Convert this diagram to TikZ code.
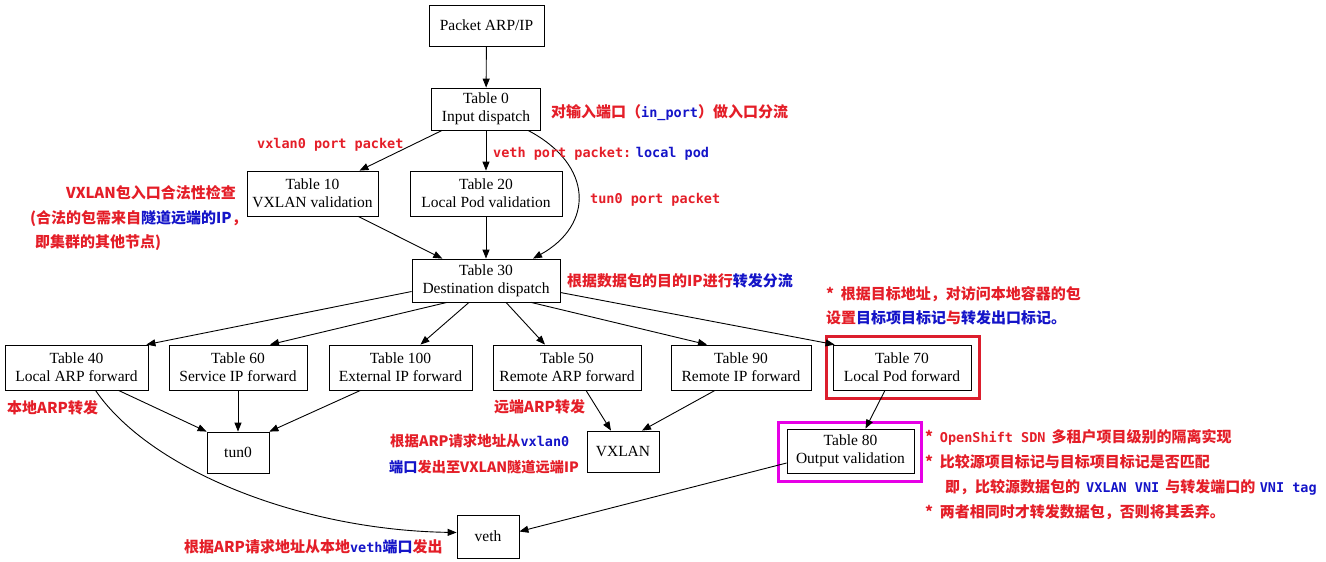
\documentclass[tikz,border=0pt]{standalone}
\usepackage{fontspec}
\setmainfont{Liberation Serif}
\newfontfamily\cjk{Noto Sans CJK SC}
\newfontfamily\monof{DejaVu Sans Mono}
\usetikzlibrary{arrows.meta,calc}
\definecolor{cred}{RGB}{228,30,40}
\definecolor{cblue}{RGB}{20,20,200}
\definecolor{fred}{RGB}{220,30,45}
\definecolor{fmag}{RGB}{230,0,230}
\newcommand\cR[1]{\textcolor{cred}{#1}}
\newcommand\cB[1]{\textcolor{cblue}{#1}}
\newcommand\tm[1]{{\monof\bfseries\fontsize{13.5}{16}\selectfont #1}}
\newcommand\stp{*\hspace{0.45em}}
\tikzset{
  tbox/.style={draw, line width=0.8pt, align=center, inner sep=0pt,
    font=\fontsize{15.5}{18}\selectfont},
  lab/.style={anchor=base west, inner sep=0pt, text=cred,
    font=\cjk\bfseries\fontsize{15}{17}\selectfont},
  edge/.style={line width=0.9pt, -{Triangle[length=9pt,width=7pt]}},
  frame/.style={line width=3pt}
}
\begin{document}
\begin{tikzpicture}[x=1pt,y=-1pt]
\useasboundingbox (0,0) rectangle (1326,562);
% nodes
\node[tbox, minimum width=115, minimum height=41] (pkt) at (486.5,25.5) {Packet ARP/IP};
\node[tbox, minimum width=109, minimum height=42] (t0) at (486,109) {Table 0\\Input dispatch};
\node[tbox, minimum width=131, minimum height=45] (t10) at (312.5,193.5) {Table 10\\VXLAN validation};
\node[tbox, minimum width=152, minimum height=45] (t20) at (486,193.5) {Table 20\\Local Pod validation};
\node[tbox, minimum width=148, minimum height=43] (t30) at (486,280.5) {Table 30\\Destination dispatch};
\node[tbox, minimum width=143, minimum height=45] (t40) at (76.5,367.5) {Table 40\\Local ARP forward};
\node[tbox, minimum width=138, minimum height=45] (t60) at (238,367.5) {Table 60\\Service IP forward};
\node[tbox, minimum width=143, minimum height=45] (t100) at (400.5,367.5) {Table 100\\External IP forward};
\node[tbox, minimum width=148, minimum height=45] (t50) at (567,367.5) {Table 50\\Remote ARP forward};
\node[tbox, minimum width=140, minimum height=45] (t90) at (741,367.5) {Table 90\\Remote IP forward};
\node[tbox, minimum width=138, minimum height=45] (t70) at (902,367.5) {Table 70\\Local Pod forward};
\node[tbox, minimum width=62, minimum height=41] (tun0) at (238,452.5) {tun0};
\node[tbox, minimum width=72, minimum height=41] (vxlan) at (623,451.5) {VXLAN};
\node[tbox, minimum width=127, minimum height=44] (t80) at (850.5,451) {Table 80\\Output validation};
\node[tbox, minimum width=62, minimum height=43] (veth) at (488,536.5) {veth};
% highlight frames
\draw[frame, fred] ($(t70.south west)+(-6,8)$) rectangle ($(t70.north east)+(8,-8)$);
\draw[frame, fmag] ($(t80.south west)+(-8,8)$) rectangle ($(t80.north east)+(7,-6)$);
% edges
\draw[edge] (pkt) -- (t0);
\draw[edge] (t0) -- (t10);
\draw[edge] (t0) -- (t20);
\draw[edge] ($(t0.south)+(42,0)$) .. controls (594,165) and (594,225) .. ($(t30.north)+(47,0)$);
\draw[edge] (t10) -- (t30);
\draw[edge] (t20) -- (t30);
\draw[edge] ($(t30.west)+(0,11)$) -- ($(t40.north east)+(-2,0)$);
\draw[edge] ($(t30.south)+(-39,0)$) -- ($(t60.north)+(32,0)$);
\draw[edge] ($(t30.south)+(-17,0)$) -- ($(t100.north)+(20,0)$);
\draw[edge] ($(t30.south)+(20,0)$) -- ($(t50.north)+(-22,0)$);
\draw[edge] ($(t30.south)+(45,0)$) -- ($(t90.north)+(-34,0)$);
\draw[edge] ($(t30.east)+(0,12)$) -- ($(t70.north west)+(2,0)$);
\draw[edge] ($(t40.south)+(42,0)$) -- (tun0.north west);
\draw[edge] ($(t40.south)+(19,0)$) .. controls (150,470) and (300,530) .. ($(veth.west)+(0,-4)$);
\draw[edge] (t60) -- (tun0);
\draw[edge] ($(t100.south)+(-40,0)$) -- (tun0.north east);
\draw[edge] ($(t50.south)+(19,0)$) -- ($(vxlan.north)+(-12,0)$);
\draw[edge] ($(t90.south)+(-26,0)$) -- ($(vxlan.north)+(19,0)$);
\draw[edge] ($(t70.south)+(-17,0)$) -- ($(t80.north)+(15,0)$);
\draw[edge] ($(t80.west)+(0,12)$) -- ($(veth.east)+(0,-5)$);
% labels
\node[lab] (l1) at (551,117) {对输入端口（\cB{\tm{in\_port}}）做入口分流};
\node[lab] (l2) at (257,148) {\tm{vxlan0 port packet}};
\node[lab] (l3) at (493,157) {\tm{veth port packet:} \cB{\tm{local pod}}};
\node[lab] (l4) at (590,203) {\tm{tun0 port packet}};
\node[lab, anchor=base east] (l5) at (236,198) {VXLAN包入口合法性检查};
\node[lab] (l6) at (30,223) {(合法的包需来自\cB{隧道远端的IP}，};
\node[lab] (l7) at (35,247) {即集群的其他节点)};
\node[lab] (l8) at (567,286) {根据数据包的目的IP进行\cB{转发分流}};
\node[lab] (l9) at (826,299) {\stp 根据目标地址，对访问本地容器的包};
\node[lab] (l10) at (826,323) {设置\cB{目标项目标记}与\cB{转发出口标记。}};
\node[lab] (l11) at (7,413) {本地ARP转发};
\node[lab] (l12) at (494,412) {远端ARP转发};
\node[lab, font=\cjk\bfseries\fontsize{14.4}{17}\selectfont] (l13) at (390,446) {根据ARP请求地址从\cB{\tm{vxlan0}}};
\node[lab, font=\cjk\bfseries\fontsize{14.2}{17}\selectfont] (l14) at (389,472) {\cB{端口}发出至VXLAN隧道远端IP};
\node[lab] (l15) at (925,442) {\stp\tm{OpenShift SDN}\hspace{0.4em}多租户项目级别的隔离实现};
\node[lab] (l16) at (925,467) {\stp 比较源项目标记与目标项目标记是否匹配};
\node[lab] (l17) at (945,492) {即，比较源数据包的\hspace{0.4em}\cB{\tm{VXLAN VNI}}\hspace{0.4em}与转发端口的\hspace{0.3em}\cB{\tm{VNI tag}}};
\node[lab] (l18) at (925,517) {\stp 两者相同时才转发数据包，否则将其丢弃。};
\node[lab] (l19) at (184,552) {根据ARP请求地址从本地\cB{\tm{veth}端口}发出};
\end{tikzpicture}
\end{document}
